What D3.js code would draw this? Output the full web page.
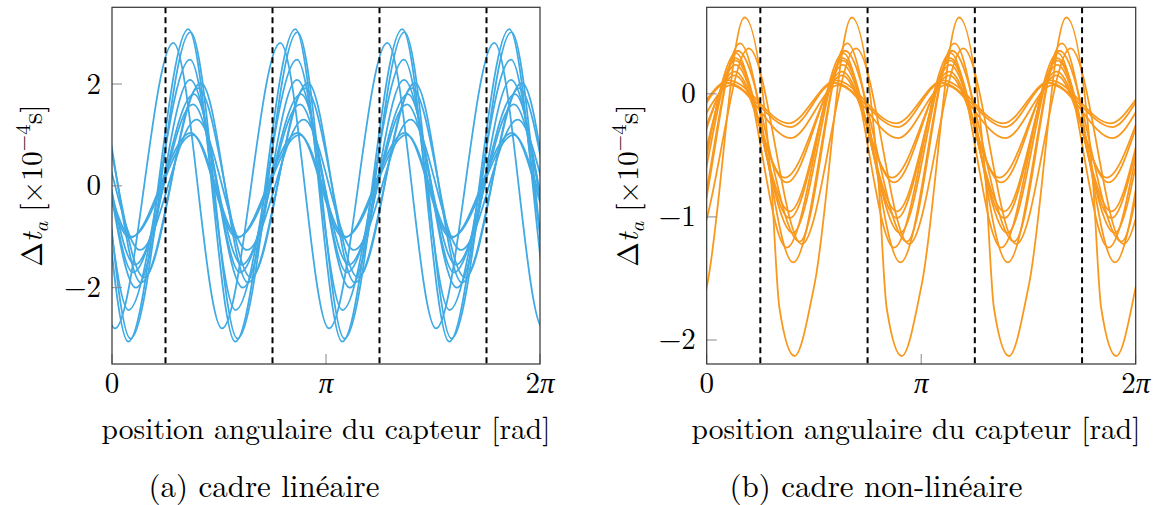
<!DOCTYPE html>
<html><head><meta charset="utf-8">
<script src="https://cdn.jsdelivr.net/npm/d3@7"></script>
<style>
body{margin:0;background:#fff}
text{font-family:"Latin Modern Roman","CMU Serif","Liberation Serif","Times New Roman",serif;fill:#000}
</style>
</head><body>
<svg id="c" width="1153" height="505"></svg>
<script>
// ---- data (one period of key points per curve: [angle rad, value]) ----
const periodLength = Math.PI / 2;
const xTickValues = [0, Math.PI, 2 * Math.PI];
const xTickLabels = ["0", "π", "2π"];
const dashPositions = [Math.PI / 4, 3 * Math.PI / 4, 5 * Math.PI / 4, 7 * Math.PI / 4];
const blueYTicks = [-2, 0, 2];
const blueYTickLabels = ["−2", "0", "2"];
const orangeYTicks = [-2, -1, 0];
const orangeYTickLabels = ["−2", "−1", "0"];

// cadre linéaire: trough, peak
const blueCurves = [
  [[1.810, -3.06], [2.691, 3.08]],
  [[1.842, -3.00], [2.723, 3.02]],
  [[1.615, -2.80], [2.471, 2.81]],
  [[1.813, -2.44], [2.716, 2.48]],
  [[1.923, -2.00], [2.716, 2.08]],
  [[1.996, -1.90], [2.877, 2.02]],
  [[2.041, -1.80], [2.833, 1.92]],
  [[1.879, -1.70], [2.775, 1.80]],
  [[1.908, -1.55], [2.760, 1.60]],
  [[1.982, -1.26], [2.814, 1.30]],
  [[1.835, -1.02], [2.730, 1.04]],
  [[1.857, -1.00], [2.753, 1.00]]
];

// cadre non-linéaire: peak, (fall points), trough, (rise points)
const orangeCurves = [
  [[2.124, 0.62], [2.509, -0.66], [2.636, -1.74], [2.856, -2.13], [3.149, -1.55]],
  [[2.059, 0.41], [2.838, -1.37]],
  [[2.187, 0.37], [2.963, -1.22]],
  [[2.025, 0.35], [2.933, -1.20]],
  [[2.001, 0.33], [2.743, -1.25]],
  [[1.996, 0.29], [2.831, -1.13]],
  [[1.996, 0.27], [2.787, -1.01]],
  [[1.992, 0.235], [2.787, -0.955]],
  [[1.982, 0.18], [2.743, -0.72]],
  [[1.982, 0.15], [2.714, -0.68]],
  [[1.894, 0.11], [2.772, -0.24]],
  [[1.864, 0.09], [2.802, -0.27]],
  [[1.923, 0.07], [2.802, -0.36]]
];

const panels = [
  {left: 112, right: 540, top: 7.3, bottom: 364, yDomain: [-3.5, 3.507],
   yTicks: blueYTicks, yTickLabels: blueYTickLabels, curves: blueCurves, color: "#40aae4",
   caption: "(a) cadre linéaire", captionX: 264, yTitleX: 42, xTitleX: 326},
  {left: 706.7, right: 1135.7, top: 7.3, bottom: 364, yDomain: [-2.195, 0.703],
   yTicks: orangeYTicks, yTickLabels: orangeYTickLabels, curves: orangeCurves, color: "#f8981d",
   caption: "(b) cadre non-linéaire", captionX: 876, yTitleX: 638, xTitleX: 916}
];

const FS_TICK = 29, FS_TITLE = 29.5, FS_CAP = 31;
const svg = d3.select("#c");

panels.forEach((p, i) => {
  const x = d3.scaleLinear().domain([0, 2 * Math.PI]).range([p.left, p.right]);
  const y = d3.scaleLinear().domain(p.yDomain).range([p.bottom, p.top]);
  const g = svg.append("g");
  const clipId = "clip" + i;
  svg.append("clipPath").attr("id", clipId).append("rect")
    .attr("x", p.left).attr("y", p.top).attr("width", p.right - p.left).attr("height", p.bottom - p.top);

  const line = d3.line().x(d => x(d[0])).y(d => y(d[1])).curve(d3.curveMonotoneX);
  const cg = g.append("g").attr("clip-path", `url(#${clipId})`);
  p.curves.forEach(c => {
    const pts = [];
    for (let k = -2; k <= 5; k++) c.forEach(q => pts.push([q[0] + k * periodLength, q[1]]));
    pts.sort((a, b) => a[0] - b[0]);
    cg.append("path").attr("d", line(pts)).attr("fill", "none")
      .attr("stroke", p.color).attr("stroke-width", 1.8).attr("stroke-linejoin", "round");
  });

  // dashed lines
  cg.selectAll("line.dash").data(dashPositions).enter().append("line")
    .attr("x1", d => x(d)).attr("x2", d => x(d)).attr("y1", p.top).attr("y2", p.bottom)
    .attr("stroke", "#000").attr("stroke-width", 2).attr("stroke-dasharray", "6,4");

  // ticks (inside)
  g.selectAll("line.yt").data(p.yTicks).enter().append("line")
    .attr("x1", p.left).attr("x2", p.left + 10).attr("y1", d => y(d)).attr("y2", d => y(d))
    .attr("stroke", "#888").attr("stroke-width", 1);
  g.selectAll("line.xt").data(xTickValues).enter().append("line")
    .attr("x1", d => x(d)).attr("x2", d => x(d)).attr("y1", p.bottom).attr("y2", p.bottom - 10)
    .attr("stroke", "#888").attr("stroke-width", 1);

  // frame
  g.append("rect").attr("x", p.left).attr("y", p.top).attr("width", p.right - p.left)
    .attr("height", p.bottom - p.top).attr("fill", "none").attr("stroke", "#333").attr("stroke-width", 1.2);

  // tick labels
  g.selectAll("text.yl").data(p.yTicks).enter().append("text")
    .attr("x", p.left - 11).attr("y", d => y(d) + 9.5).attr("text-anchor", "end")
    .attr("font-size", FS_TICK).text((d, j) => p.yTickLabels[j]);
  g.selectAll("text.xl").data(xTickValues).enter().append("text")
    .attr("x", d => x(d)).attr("y", 393).attr("text-anchor", "middle")
    .attr("font-size", FS_TICK)
    .each(function(d, j) {
      const t = d3.select(this);
      const lab = xTickLabels[j];
      if (lab.includes("π")) {
        const pre = lab.replace("π", "");
        if (pre) t.append("tspan").text(pre);
        t.append("tspan").attr("font-style", "italic").text("π");
      } else t.text(lab);
    });

  // x title
  g.append("text").attr("x", p.xTitleX).attr("y", 439).attr("text-anchor", "middle")
    .attr("font-size", FS_TITLE)
    .text("position angulaire du capteur [rad]");

  // y title
  const yt = g.append("text").attr("transform", `translate(${p.yTitleX},${(p.top + p.bottom) / 2}) rotate(-90)`)
    .attr("text-anchor", "middle").attr("font-size", FS_TITLE);
  yt.append("tspan").text("Δ");
  yt.append("tspan").attr("font-style", "italic").text("t");
  yt.append("tspan").attr("font-style", "italic").attr("font-size", 21).attr("dy", 6).text("a");
  yt.append("tspan").attr("dy", -6).text(" [×10");
  yt.append("tspan").attr("font-size", 21).attr("dy", -12).text("−4");
  yt.append("tspan").attr("dy", 12).text("s]");

  // caption
  g.append("text").attr("x", p.captionX).attr("y", 497).attr("text-anchor", "middle")
    .attr("font-size", FS_CAP).text(p.caption);
});
</script>
</body></html>
